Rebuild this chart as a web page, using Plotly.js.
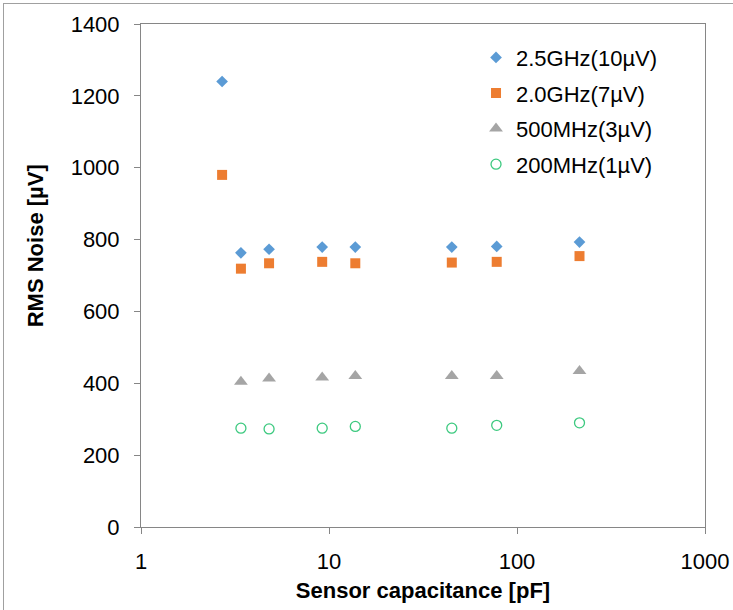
<!DOCTYPE html>
<html>
<head>
<meta charset="utf-8">
<script src="https://cdn.plot.ly/plotly-3.0.1.min.js"></script>
<style>
  html, body { margin: 0; padding: 0; background: #ffffff; }
  #frame { position: absolute; left: 0; top: 0; width: 733px; height: 610px; }
  #edge { position: absolute; left: 3px; top: 3px; width: 730px; height: 607px;
          border-top: 1px solid #a0a0a0; border-left: 1px solid #a0a0a0; pointer-events: none; }
</style>
</head>
<body>
<div id="frame"></div>
<div id="edge"></div>
<script>
// Sensor capacitance sweep [pF]
const capAll = [2.7, 3.4, 4.8, 9.2, 13.8, 45, 78, 215];
const capLow = [3.4, 4.8, 9.2, 13.8, 45, 78, 215];

// RMS noise [µV] per sampling setting
const noise25GHz = [1240, 763, 773, 779, 779, 779, 781, 793];
const noise20GHz = [980, 719, 734, 738, 734, 736, 738, 754];
const noise500MHz = [404, 413, 416, 420, 420, 420, 434];
const noise200MHz = [275, 273, 275, 280, 275, 283, 290];

const seriesNames = ['2.5GHz(10µV)', '2.0GHz(7µV)', '500MHz(3µV)', '200MHz(1µV)'];

const xTickVals = [1, 10, 100, 1000];
const xTickText = ['1', '10', '100', '1000'];

const FONT = 'Liberation Sans, Arial, sans-serif';
const AXIS = '#868686';

const traces = [
  { x: capAll, y: noise25GHz, name: seriesNames[0], legendgroup: 'a',
    marker: { symbol: 'diamond', size: 9, color: '#5B9BD5' } },
  { x: capAll, y: noise20GHz, name: seriesNames[1], legendgroup: 'b',
    marker: { symbol: 'square', size: 10, color: '#ED7D31' } },
  { x: capLow, y: noise500MHz, name: seriesNames[2], legendgroup: 'c',
    marker: { symbol: 'triangle-up', size: 12, color: '#A5A5A5' } },
  { x: capLow, y: noise200MHz, name: seriesNames[3], legendgroup: 'd',
    marker: { symbol: 'circle-open', size: 10, color: '#3CC97F', line: { width: 1.3, color: '#3CC97F' } } }
].map(t => Object.assign({ type: 'scatter', mode: 'markers', hoverinfo: 'x+y' }, t));

const layout = {
  width: 733, height: 610,
  margin: { l: 141, r: 28, t: 24, b: 83 },
  paper_bgcolor: '#ffffff', plot_bgcolor: '#ffffff',
  font: { family: FONT, size: 22, color: '#000000' },
  showlegend: true,
  legend: {
    x: 0.594, y: 0.975, xanchor: 'left', yanchor: 'top',
    bgcolor: 'rgba(0,0,0,0)', borderwidth: 0,
    font: { family: FONT, size: 22, color: '#000000' },
    traceorder: 'grouped', tracegroupgap: 4, itemwidth: 30
  },
  xaxis: {
    type: 'log', range: [0, 3],
    tickvals: xTickVals, ticktext: xTickText,
    showgrid: false, zeroline: false,
    showline: true, linecolor: AXIS, linewidth: 1, mirror: true,
    ticks: 'outside', ticklen: 6, tickcolor: AXIS, tickwidth: 1,
    ticklabelstandoff: 9,
    tickfont: { family: FONT, size: 22, color: '#000000' },
    title: { text: '<b>Sensor capacitance [pF]</b>', standoff: 9,
             font: { family: FONT, size: 22, color: '#000000' } }
  },
  yaxis: {
    range: [0, 1400], dtick: 200,
    showgrid: false, zeroline: false,
    showline: true, linecolor: AXIS, linewidth: 1, mirror: true,
    ticks: 'outside', ticklen: 6, tickcolor: AXIS, tickwidth: 1,
    ticklabelstandoff: 10,
    tickfont: { family: FONT, size: 22, color: '#000000' }
  },
  annotations: [{
    text: '<b>RMS Noise [µV]</b>', textangle: -90,
    xref: 'paper', yref: 'paper', x: -0.188, y: 0.56,
    xanchor: 'center', yanchor: 'middle', showarrow: false,
    font: { family: FONT, size: 22, color: '#000000' }
  }]
};

Plotly.newPlot('frame', traces, layout, { displayModeBar: false, staticPlot: true });
</script>
</body>
</html>
